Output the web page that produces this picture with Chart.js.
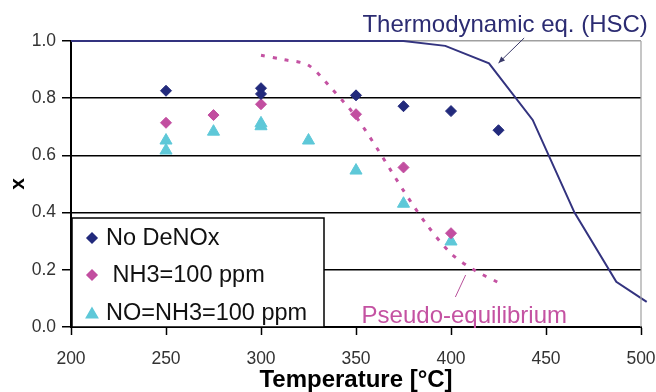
<!DOCTYPE html>
<html>
<head>
<meta charset="utf-8">
<script src="https://cdn.jsdelivr.net/npm/chart.js@4.4.1/dist/chart.umd.min.js"></script>
<style>
  body { margin: 0; background: #fff; }
  #wrap { width: 656px; height: 392px; }
</style>
</head>
<body>
<div id="wrap"><canvas id="xChart" width="656" height="392"></canvas></div>
<script>
// values
const noDenoxT = [250, 300, 300, 350, 375, 400, 425];
const noDenoxX = [0.826, 0.835, 0.815, 0.81, 0.772, 0.755, 0.688];

const nh3T = [250, 275, 300, 350, 375, 400];
const nh3X = [0.714, 0.741, 0.779, 0.744, 0.558, 0.328];

const noNh3T = [250, 250, 275, 300, 300, 325, 350, 375, 400];
const noNh3X = [0.652, 0.617, 0.683, 0.712, 0.702, 0.652, 0.547, 0.431, 0.299];

const thermoT = [200, 375, 397, 420, 443, 465, 487, 503];
const thermoX = [1.0, 1.0, 0.983, 0.922, 0.724, 0.40, 0.158, 0.088];

const pseudoT = [300, 312, 325, 337, 350, 362, 375, 387, 400, 412, 425];
const pseudoX = [0.95, 0.935, 0.915, 0.835, 0.735, 0.615, 0.477, 0.36, 0.257, 0.20, 0.155];

const xTicks = [200, 250, 300, 350, 400, 450, 500];
const yTicks = [0.0, 0.2, 0.4, 0.6, 0.8, 1.0];

const labels = ["No DeNOx", " NH3=100 ppm", "NO=NH3=100 ppm"];

const navy = "#222a7c";
const magenta = "#c24ea0";
const cyan = "#5ec8d8";
const thermoColor = "#33337f";
const font = "'Liberation Sans', Arial, sans-serif";

function pts(xs, ys) {
    return xs.map((x, i) => ({ x: x, y: ys[i] }));
}

// legend box inside the plot + the two curve notes
const extras = {
    id: "extras",
    afterDatasetsDraw(chart) {
        const ctx = chart.ctx;
        const area = chart.chartArea;
        const xs = chart.scales.x;
        ctx.save();

        // right border of the plot area
        ctx.strokeStyle = "#a0a0a0";
        ctx.lineWidth = 1.2;
        ctx.beginPath();
        ctx.moveTo(area.right, area.top);
        ctx.lineTo(area.right, area.bottom);
        ctx.stroke();

        // legend
        const left = area.left + 1, top = 218, right = 324, bottom = area.bottom;
        ctx.fillStyle = "#fff";
        ctx.fillRect(left, top, right - left, bottom - top);
        ctx.strokeStyle = "#000";
        ctx.lineWidth = 1.5;
        ctx.strokeRect(left, top, right - left, bottom - top);
        const rows = [238, 275, 313];
        chart.data.datasets.slice(0, 3).forEach((ds, i) => {
            ctx.fillStyle = ds.backgroundColor;
            ctx.strokeStyle = ds.borderColor;
            Chart.helpers.drawPoint(ctx, {
                pointStyle: ds.pointStyle,
                radius: ds.pointStyle === "triangle" ? 6.5 : 5,
                borderWidth: 1,
                rotation: 0
            }, 92, rows[i] + (ds.pointStyle === "triangle" ? 1.5 : 0));
            ctx.fillStyle = "#111";
            ctx.font = "23.5px " + font;
            ctx.textAlign = "left";
            ctx.textBaseline = "middle";
            ctx.fillText(ds.label, 106, rows[i] + 1);
        });

        // thermodynamic note with arrow
        ctx.fillStyle = "#2c2c72";
        ctx.font = "24px " + font;
        ctx.textAlign = "center";
        ctx.textBaseline = "alphabetic";
        ctx.fillText("Thermodynamic eq. (HSC)", xs.getPixelForValue(428.5), 32);
        const ax1 = xs.getPixelForValue(438.5), ay1 = 38;
        const ax2 = xs.getPixelForValue(425), ay2 = 63;
        ctx.strokeStyle = "#3a3a6a";
        ctx.lineWidth = 1;
        ctx.beginPath();
        ctx.moveTo(ax1, ay1);
        ctx.lineTo(ax2, ay2);
        ctx.stroke();
        const ang = Math.atan2(ay2 - ay1, ax2 - ax1);
        ctx.beginPath();
        ctx.moveTo(ax2, ay2);
        ctx.lineTo(ax2 - 7 * Math.cos(ang - 0.4), ay2 - 7 * Math.sin(ang - 0.4));
        ctx.lineTo(ax2 - 7 * Math.cos(ang + 0.4), ay2 - 7 * Math.sin(ang + 0.4));
        ctx.closePath();
        ctx.fillStyle = "#3a3a6a";
        ctx.fill();

        // pseudo-equilibrium note
        ctx.fillStyle = "#c452a2";
        ctx.fillText("Pseudo-equilibrium", xs.getPixelForValue(407), 323);
        ctx.strokeStyle = "#b8509a";
        ctx.beginPath();
        ctx.moveTo(xs.getPixelForValue(402.3), 297);
        ctx.lineTo(xs.getPixelForValue(407.7), 275);
        ctx.stroke();

        ctx.restore();
    }
};

const ctx = document.getElementById("xChart").getContext("2d");

new Chart(ctx, {
    type: "scatter",
    data: {
        datasets: [
            {
                label: labels[0],
                data: pts(noDenoxT, noDenoxX),
                pointStyle: "rectRot",
                pointRadius: 5.5,
                borderWidth: 1,
                backgroundColor: navy,
                borderColor: navy
            },
            {
                label: labels[1],
                data: pts(nh3T, nh3X),
                pointStyle: "rectRot",
                pointRadius: 5.5,
                borderWidth: 1,
                backgroundColor: magenta,
                borderColor: magenta
            },
            {
                label: labels[2],
                data: pts(noNh3T, noNh3X),
                pointStyle: "triangle",
                pointRadius: 7,
                borderWidth: 1,
                backgroundColor: cyan,
                borderColor: cyan
            },
            {
                label: "Thermodynamic eq. (HSC)",
                data: pts(thermoT, thermoX),
                showLine: true,
                pointRadius: 0,
                borderColor: thermoColor,
                borderWidth: 2,
                tension: 0,
                clip: { left: 0, top: 3, right: 8, bottom: 0 }
            },
            {
                label: "Pseudo-equilibrium",
                data: pts(pseudoT, pseudoX),
                showLine: true,
                pointRadius: 0,
                borderColor: "#c452a2",
                borderWidth: 3,
                borderDash: [4, 8],
                tension: 0.3
            }
        ]
    },
    options: {
        responsive: false,
        animation: false,
        layout: { padding: { left: 0, top: 41, right: 15, bottom: 0 } },
        plugins: {
            legend: { display: false },
            tooltip: { enabled: false }
        },
        scales: {
            x: {
                type: "linear",
                min: 200,
                max: 500,
                afterBuildTicks: s => { s.ticks = xTicks.map(v => ({ value: v })); },
                afterFit: s => { s.height = 65; s.paddingRight = 0; s.paddingLeft = 0; },
                ticks: {
                    color: "#333",
                    padding: 14,
                    font: { family: font, size: 17.5 }
                },
                grid: {
                    drawOnChartArea: false,
                    drawTicks: true,
                    tickLength: 8,
                    tickColor: "#000",
                    tickWidth: 1.5
                },
                border: { color: "#000", width: 2 },
                title: {
                    display: true,
                    text: "Temperature [°C]",
                    color: "#000",
                    font: { family: font, size: 24, weight: "bold", lineHeight: 1 },
                    padding: { top: 0, bottom: 0 }
                }
            },
            y: {
                min: 0,
                max: 1,
                afterBuildTicks: s => { s.ticks = yTicks.map(v => ({ value: v })); },
                afterFit: s => { s.width = 71; s.paddingTop = 0; s.paddingBottom = 0; },
                ticks: {
                    color: "#333",
                    padding: 6,
                    font: { family: font, size: 17.5 },
                    callback: v => v.toFixed(1)
                },
                grid: {
                    color: c => (c.tick && c.tick.value === 1 ? "#a0a0a0" : "#000"),
                    lineWidth: 1.5,
                    tickLength: 9,
                    tickColor: "#000",
                    tickWidth: 1.5
                },
                border: { color: "#000", width: 2 },
                title: {
                    display: true,
                    text: "x",
                    color: "#000",
                    font: { family: font, size: 21, weight: "bold", lineHeight: 1 },
                    padding: { top: 8, bottom: 0 }
                }
            }
        }
    },
    plugins: [extras]
});
</script>
</body>
</html>
